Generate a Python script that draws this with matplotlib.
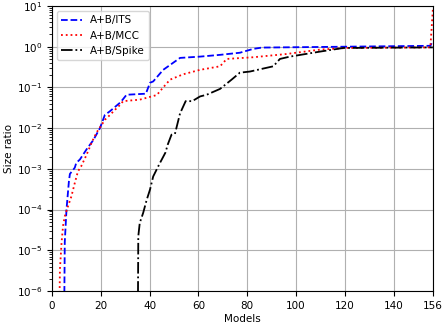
import numpy as np
import matplotlib
matplotlib.use("Agg")
import matplotlib.pyplot as plt

# A+B/ITS
its_x = [5, 5.3, 6, 7, 7.4, 9.4, 10, 11.5, 14.2, 17, 19.7, 21.7, 23.8, 27.9, 29, 30.6,
         38.5, 40.2, 41.5, 45.6, 52.5, 60.7, 68.9, 77, 82.4, 86, 155, 156]
its_y = [1e-7, 1.6e-5, 1e-4, 5e-4, 7.5e-4, 1.07e-3, 1.4e-3, 1.7e-3, 3e-3, 5.1e-3, 1.0e-2,
         2.1e-2, 2.6e-2, 4.2e-2, 5e-2, 6.6e-2, 7.0e-2, 0.13, 0.14, 0.27, 0.53, 0.57, 0.63,
         0.71, 0.88, 0.95, 1.05, 1.4]

# A+B/MCC
mcc_x = [3, 3.3, 4, 4.6, 5.3, 6.6, 8, 9.4, 10.7, 12, 14.2, 16.3, 18.3, 20.4, 21.7, 23.8,
         25.8, 27.9, 29.2, 36, 43, 45.6, 48.4, 53.8, 60.7, 68.9, 71.6, 82.5, 96, 110,
         120.8, 155, 156]
mcc_y = [1e-7, 3.3e-6, 1.6e-5, 4e-5, 6.8e-5, 1.2e-4, 2.1e-4, 4.5e-4, 8.7e-4, 1.15e-3,
         2.2e-3, 4.4e-3, 7.8e-3, 1.2e-2, 1.6e-2, 2.1e-2, 2.8e-2, 3.7e-2, 4.6e-2, 5.0e-2,
         6.5e-2, 0.1, 0.155, 0.21, 0.27, 0.33, 0.5, 0.55, 0.66, 0.85, 0.93, 0.96, 8]

# A+B/Spike
spike_x = [35.2, 35.4, 36, 37.4, 38.8, 40.2, 41.5, 44, 46.5, 47.5, 49, 50.4, 52.5, 54.8,
           57.5, 60.7, 63.4, 68.9, 73.6, 77, 81.1, 90.7, 93.4, 97.5, 110, 119.4, 156]
spike_y = [1e-7, 2.2e-5, 4.7e-5, 8.3e-5, 1.7e-4, 3.1e-4, 6.5e-4, 1.3e-3, 2.5e-3, 4e-3,
           6.9e-3, 7.2e-3, 2.3e-2, 4.6e-2, 4.6e-2, 6e-2, 6.6e-2, 9.2e-2, 0.155, 0.23,
           0.245, 0.33, 0.5, 0.57, 0.76, 0.93, 0.96]

xticks = [0, 20, 40, 60, 80, 100, 120, 140, 156]

fig = plt.figure(figsize=(4.43, 3.30), dpi=100)
ax = fig.add_axes([0.117, 0.118, 0.86, 0.864])

ax.plot(its_x, its_y, color="blue", linestyle="--", linewidth=1.3, label="A+B/ITS")
ax.plot(mcc_x, mcc_y, color="red", linestyle=":", linewidth=1.3, label="A+B/MCC")
ax.plot(spike_x, spike_y, color="black", linestyle="-.", linewidth=1.3, label="A+B/Spike")

ax.set_yscale("log")
ax.set_xlim(0, 156)
ax.set_ylim(1e-6, 1e1)
ax.set_xticks(xticks)
ax.set_yticks([10.0 ** k for k in range(-6, 2)])
ax.tick_params(labelsize=7.5)
ax.grid(True, which="major", color="#b0b0b0", linewidth=0.8)
ax.set_xlabel("Models", fontsize=7.5, labelpad=2)
ax.set_ylabel("Size ratio", fontsize=7.5, labelpad=2)
ax.legend(loc="upper left", fontsize=7.5)

fig.savefig("out.png", dpi=100)
